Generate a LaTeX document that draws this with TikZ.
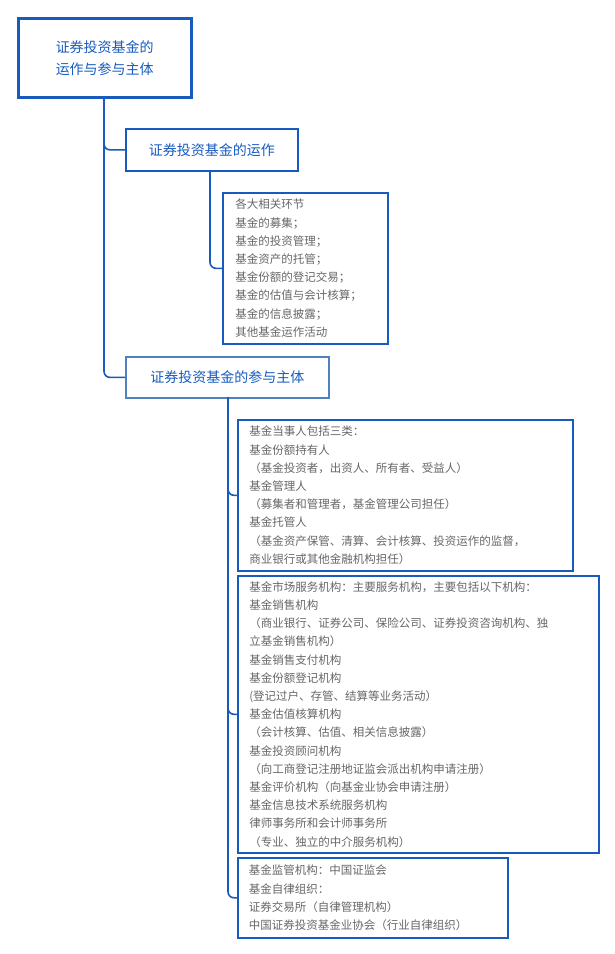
\documentclass[tikz,border=0pt]{standalone}
\usepackage{fontspec}
\setmainfont{Noto Sans CJK SC}
\begin{document}
\begin{tikzpicture}[x=1pt,y=-1pt,
  top/.style={draw=blue1,line width=2.5pt,text=blue1,font=\fontsize{14}{22}\selectfont,align=center,anchor=north west,inner sep=0},
  sub/.style={draw=blue1,line width=1.8pt,text=blue1,font=\fontsize{14}{20}\selectfont,anchor=north west,inner sep=0},
  leaf/.style={draw=blue1,line width=1.6pt,text=gray1,font=\fontsize{11.5}{18.2}\selectfont,align=left,anchor=north west,inner sep=0},
  conn/.style={draw=blue1,line width=1.6pt,rounded corners=6pt}]
\definecolor{blue1}{HTML}{175BBE}
\definecolor{blue2}{HTML}{4F80C0}
\definecolor{gray1}{HTML}{666666}
\useasboundingbox (0,0) rectangle (615,954);
\node[top,minimum width=173,minimum height=79] (root) at (17,17) {证券投资基金的\\运作与参与主体};
\node[sub,minimum width=172,minimum height=42] (b2) at (125,128) {证券投资基金的运作};
\node[sub,draw=blue2,minimum width=203,minimum height=41] (b3) at (125,356) {证券投资基金的参与主体};
\node[leaf,minimum width=165,minimum height=151] (l1) at (222,192) {\hspace*{10pt}\parbox{150pt}{各大相关环节\\基金的募集；\\基金的投资管理；\\基金资产的托管；\\基金份额的登记交易；\\基金的估值与会计核算；\\基金的信息披露；\\其他基金运作活动}};
\node[leaf,minimum width=335,minimum height=151] (l2) at (237,419) {\hspace*{10pt}\parbox{322pt}{基金当事人包括三类：\\基金份额持有人\\（基金投资者，出资人、所有者、受益人）\\基金管理人\\（募集者和管理者，基金管理公司担任）\\基金托管人\\（基金资产保管、清算、会计核算、投资运作的监督，\\商业银行或其他金融机构担任）}};
\node[leaf,minimum width=361,minimum height=277] (l3) at (237,575) {\hspace*{10pt}\parbox{348pt}{基金市场服务机构：主要服务机构，主要包括以下机构：\\基金销售机构\\（商业银行、证券公司、保险公司、证券投资咨询机构、独\\立基金销售机构）\\基金销售支付机构\\基金份额登记机构\\(登记过户、存管、结算等业务活动）\\基金估值核算机构\\（会计核算、估值、相关信息披露）\\基金投资顾问机构\\（向工商登记注册地证监会派出机构申请注册）\\基金评价机构（向基金业协会申请注册）\\基金信息技术系统服务机构\\律师事务所和会计师事务所\\（专业、独立的中介服务机构）}};
\node[leaf,minimum width=270,minimum height=80] (l4) at (237,857) {\hspace*{10pt}\parbox{258pt}{基金监管机构：中国证监会\\基金自律组织：\\证券交易所（自律管理机构）\\中国证券投资基金业协会（行业自律组织）}};
\coordinate (r0) at ([xshift=-86.5]root.south);
\coordinate (r0) at (104,96);
\coordinate (s2) at (210,170);
\coordinate (s3) at (228,397);
\draw[conn] (r0) |- (b2.west);
\draw[conn] (r0) |- (b3.west);
\draw[conn] (s2) |- (l1.west);
\draw[conn] (s3) |- (l2.west);
\draw[conn] (s3) |- (l3.west);
\draw[conn] (s3) |- (l4.west);
\end{tikzpicture}
\end{document}
